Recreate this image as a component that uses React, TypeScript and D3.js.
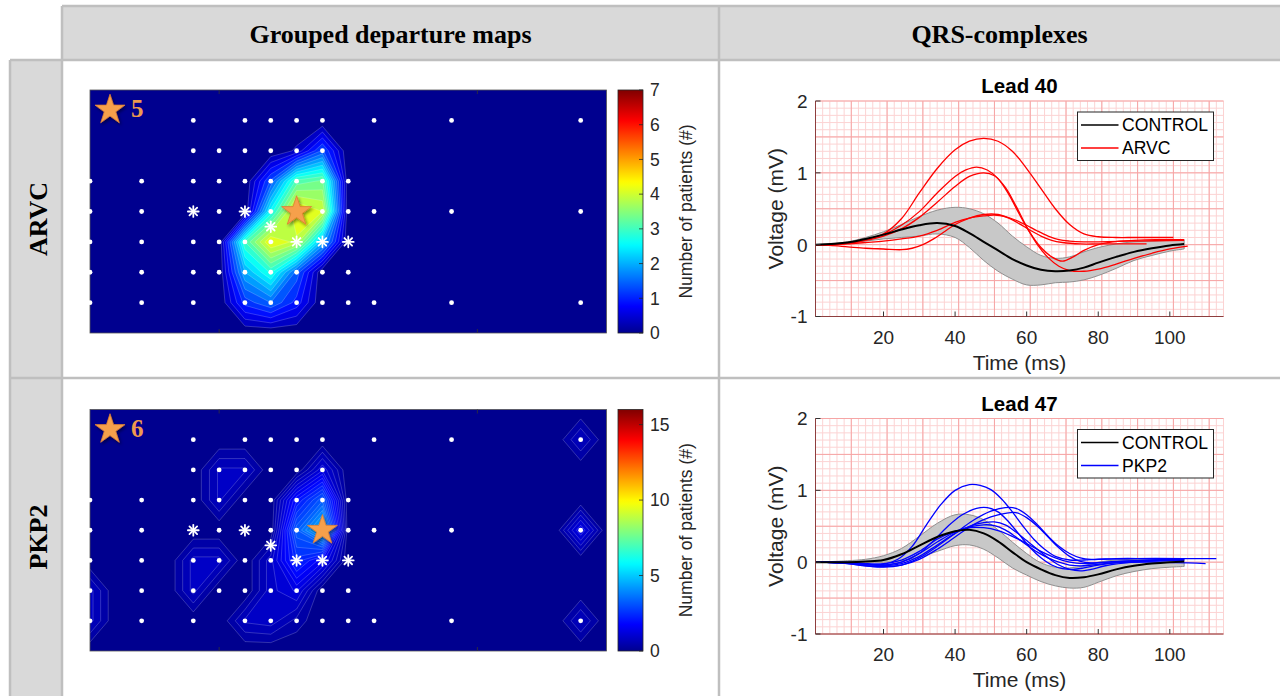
import React from "react";
import * as d3 from "d3";

// ================= DATA =================
// Grouped departure maps: number of patients per electrode-grid node
// rows 0..8 (top -> bottom), columns 0..20 (left -> right)
const arvcCounts: number[][] = [
  [0, 0, 0, 0, 0, 0, 0, 0, 0, 0, 0, 0, 0, 0, 0, 0, 0, 0, 0, 0, 0],
  [0, 0, 0, 0, 0, 0, 0, 0, 0, 0, 0, 0, 0, 0, 0, 0, 0, 0, 0, 0, 0],
  [0, 0, 0, 0, 0, 0, 0, 0, 0.3, 1.3, 0, 0, 0, 0, 0, 0, 0, 0, 0, 0, 0],
  [0, 0, 0, 0, 0, 0, 0, 1.3, 3.1, 3.3, 0, 0, 0, 0, 0, 0, 0, 0, 0, 0, 0],
  [0, 0, 0, 0, 0, 0, 0, 2.6, 4.4, 4.0, 0, 0, 0, 0, 0, 0, 0, 0, 0, 0, 0],
  [0, 0, 0, 0, 0, 0, 3.0, 4.3, 3.9, 2.0, 0, 0, 0, 0, 0, 0, 0, 0, 0, 0, 0],
  [0, 0, 0, 0, 0, 0, 2.0, 2.8, 1.4, 0, 0, 0, 0, 0, 0, 0, 0, 0, 0, 0, 0],
  [0, 0, 0, 0, 0, 0, 1.1, 1.5, 0.9, 0, 0, 0, 0, 0, 0, 0, 0, 0, 0, 0, 0],
  [0, 0, 0, 0, 0, 0, 0, 0, 0, 0, 0, 0, 0, 0, 0, 0, 0, 0, 0, 0, 0],
];
const pkp2Counts: number[][] = [
  [0, 0, 0, 0, 0, 0, 0, 0, 0, 0, 0, 0, 0, 0, 0, 0, 0, 0, 0, 0, 0],
  [0, 0, 0, 0, 0, 0, 0, 0, 0, 0, 0, 0, 0, 0, 0, 0, 0, 0, 0, 0.8, 0],
  [0, 0, 0, 0, 0, 0.8, 0.8, 0, 0, 1.2, 0, 0, 0, 0, 0, 0, 0, 0, 0, 0, 0],
  [0, 0, 0, 0, 0, 0.8, 0, 0, 2.0, 3.2, 0, 0, 0, 0, 0, 0, 0, 0, 0, 0, 0],
  [0, 0, 0, 0, 0, 0, 0, 0, 3.2, 4.8, 0, 0, 0, 0, 0, 0, 0, 0, 0, 1.5, 0],
  [0, 0, 0, 0, 0.85, 0.85, 0, 0.9, 2.4, 1.6, 0, 0, 0, 0, 0, 0, 0, 0, 0, 0, 0],
  [0.85, 0, 0, 0, 0.85, 0, 0, 0.9, 1.3, 0, 0, 0, 0, 0, 0, 0, 0, 0, 0, 0, 0],
  [0.85, 0, 0, 0, 0, 0, 0.8, 0.9, 0.4, 0, 0, 0, 0, 0, 0, 0, 0, 0, 0, 0.8, 0],
  [0, 0, 0, 0, 0, 0, 0, 0, 0, 0, 0, 0, 0, 0, 0, 0, 0, 0, 0, 0, 0],
];
const arvcMaxCount = 7;
const pkp2MaxCount = 16;
const arvcColorbarTicks = [0, 1, 2, 3, 4, 5, 6, 7];
const pkp2ColorbarTicks = [0, 5, 10, 15];
const contourStep = 0.25;

// electrode positions: [row, columns]
const electrodeRows: [number, number[]][] = [
  [1, [4, 6, 7, 8, 9, 11, 14, 19]],
  [2, [4, 5, 6, 7, 8, 9]],
  [3, [0, 2, 4, 5, 6, 7, 8, 9, 10]],
  [4, [0, 2, 5, 7, 8, 9, 10, 11, 14, 19]],
  [5, [0, 2, 4, 5, 6, 7]],
  [6, [0, 2, 4, 5, 6, 7, 8, 9, 10]],
  [7, [0, 2, 4, 6, 7, 8, 9, 10, 11, 14, 19]],
];
const asteriskLeads: [number, number][] = [[4, 4], [6, 4], [7, 4.5], [8, 5], [9, 5], [10, 5]];
const arvcStar: [number, number] = [8, 4];
const pkp2Star: [number, number] = [9, 4];
const arvcStarCount = 5;
const pkp2StarCount = 6;

// QRS complexes
const ecgTimes = [1, 10, 15, 20, 25, 30, 35, 40, 44, 48, 52, 56, 60, 64, 68, 72, 76, 80, 85, 90, 95, 100, 104];
const lead40ControlMean = [0, 0.03, 0.08, 0.14, 0.21, 0.27, 0.30, 0.26, 0.16, 0.04, -0.08, -0.20, -0.29, -0.35, -0.37, -0.36, -0.32, -0.25, -0.17, -0.10, -0.05, -0.01, 0.01];
const lead40ControlUpper = [0, 0.04, 0.10, 0.18, 0.28, 0.39, 0.48, 0.52, 0.50, 0.43, 0.30, 0.12, -0.03, -0.15, -0.19, -0.17, -0.10, -0.04, 0.01, 0.04, 0.05, 0.06, 0.07];
const lead40ControlLower = [0, 0.02, 0.05, 0.08, 0.10, 0.12, 0.15, 0.10, -0.04, -0.22, -0.37, -0.48, -0.56, -0.56, -0.53, -0.52, -0.49, -0.43, -0.33, -0.22, -0.15, -0.09, -0.06];
const lead47ControlMean = [0, 0, 0.01, 0.03, 0.11, 0.23, 0.35, 0.43, 0.45, 0.40, 0.29, 0.14, 0, -0.10, -0.18, -0.22, -0.21, -0.17, -0.10, -0.05, -0.02, 0, 0.01];
const lead47ControlUpper = [0, 0.02, 0.04, 0.09, 0.19, 0.36, 0.54, 0.66, 0.66, 0.59, 0.45, 0.28, 0.12, -0.01, -0.07, -0.08, -0.05, 0, 0.03, 0.04, 0.05, 0.05, 0.05];
const lead47ControlLower = [0, 0, 0, 0, 0.02, 0.07, 0.15, 0.23, 0.24, 0.18, 0.06, -0.08, -0.18, -0.27, -0.33, -0.36, -0.35, -0.28, -0.19, -0.13, -0.09, -0.07, -0.06];

const lead40Arvc: [number, number][][] = [
  [[1, 0], [5, 0], [10, 0.02], [15, 0.07], [20, 0.15], [25, 0.36], [30, 0.72], [35, 1.06], [40, 1.32], [44, 1.44], [48, 1.48], [52, 1.44], [56, 1.30], [60, 1.06], [64, 0.78], [68, 0.50], [72, 0.28], [76, 0.15], [80, 0.11], [85, 0.10], [90, 0.10], [95, 0.10], [101, 0.10]],
  [[1, 0], [5, 0], [10, 0.02], [15, 0.07], [20, 0.14], [25, 0.27], [30, 0.46], [35, 0.72], [40, 0.95], [43, 1.04], [46, 1.08], [49, 1.04], [52, 0.92], [55, 0.70], [58, 0.42], [61, 0.16], [64, -0.04], [67, -0.17], [70, -0.23], [73, -0.17], [76, -0.08], [80, 0.0], [84, 0.04], [90, 0.06], [96, 0.07], [104, 0.07]],
  [[1, 0], [5, 0], [10, 0.02], [15, 0.06], [20, 0.12], [25, 0.22], [30, 0.38], [35, 0.59], [40, 0.81], [44, 0.95], [48, 1.0], [51, 0.96], [54, 0.80], [57, 0.54], [60, 0.25], [63, 0.0], [66, -0.18], [69, -0.30], [72, -0.36], [76, -0.37], [80, -0.34], [85, -0.27], [90, -0.19], [95, -0.12], [100, -0.06], [105, -0.02]],
  [[1, 0], [5, -0.01], [10, -0.03], [15, -0.05], [20, -0.06], [25, -0.07], [28, -0.05], [31, 0.0], [34, 0.08], [37, 0.18], [40, 0.28], [44, 0.37], [48, 0.42], [52, 0.42], [55, 0.37], [58, 0.29], [61, 0.20], [64, 0.12], [67, 0.06], [70, 0.03], [75, 0.01], [80, 0.01], [86, 0.01], [93.5, 0.01]],
  [[1, 0], [5, 0], [10, 0.01], [15, 0.03], [20, 0.05], [25, 0.08], [30, 0.12], [35, 0.20], [40, 0.31], [44, 0.37], [48, 0.40], [51, 0.41], [54, 0.39], [57, 0.34], [60, 0.27], [63, 0.19], [66, 0.12], [69, 0.07], [72, 0.05], [76, 0.04], [80, 0.04], [90, 0.05], [104, 0.06]],
];
const lead47Pkp2: [number, number][][] = [
  [[1, 0], [10, -0.01], [15, -0.03], [20, -0.03], [24, 0.04], [28, 0.22], [32, 0.52], [36, 0.80], [40, 1.0], [44, 1.08], [47, 1.07], [50, 1.01], [53, 0.88], [56, 0.70], [59, 0.50], [62, 0.32], [65, 0.18], [68, 0.08], [72, 0.03], [76, 0.03], [80, 0.04], [90, 0.05], [104, 0.05]],
  [[1, 0], [10, -0.01], [15, -0.03], [20, -0.04], [25, 0.0], [30, 0.12], [34, 0.30], [38, 0.50], [42, 0.66], [46, 0.75], [49, 0.76], [52, 0.70], [55, 0.56], [58, 0.38], [61, 0.20], [64, 0.06], [67, -0.04], [70, -0.09], [73, -0.10], [76, -0.08], [80, -0.04], [85, -0.01], [95, 0.0], [110, -0.02]],
  [[1, 0], [10, -0.02], [15, -0.05], [20, -0.07], [25, -0.04], [30, 0.06], [35, 0.22], [40, 0.40], [45, 0.58], [50, 0.71], [54, 0.76], [57, 0.75], [60, 0.66], [63, 0.52], [66, 0.36], [69, 0.22], [72, 0.12], [75, 0.06], [78, 0.04], [85, 0.05], [95, 0.05], [113, 0.05]],
  [[1, 0], [10, -0.02], [15, -0.05], [20, -0.06], [25, -0.04], [30, 0.04], [35, 0.18], [40, 0.35], [45, 0.52], [50, 0.63], [54, 0.68], [57, 0.69], [60, 0.62], [63, 0.50], [66, 0.35], [69, 0.20], [72, 0.08], [75, 0.01], [78, -0.01], [85, 0.01], [95, 0.03], [104, 0.04]],
  [[1, 0], [10, -0.01], [15, -0.03], [20, -0.05], [25, -0.02], [30, 0.08], [35, 0.24], [40, 0.40], [44, 0.50], [48, 0.55], [51, 0.56], [54, 0.52], [57, 0.42], [60, 0.30], [63, 0.18], [66, 0.06], [69, -0.04], [72, -0.10], [75, -0.12], [78, -0.10], [82, -0.05], [90, 0.0], [104, 0.03]],
  [[1, 0], [10, -0.01], [15, -0.03], [20, -0.04], [25, 0.0], [30, 0.12], [35, 0.28], [40, 0.42], [44, 0.49], [48, 0.52], [51, 0.51], [54, 0.45], [57, 0.35], [60, 0.24], [63, 0.14], [66, 0.06], [69, 0.0], [72, -0.04], [76, -0.05], [80, -0.03], [90, 0.01], [104, 0.03]],
  [[1, 0], [10, 0.0], [15, -0.02], [20, -0.02], [25, 0.03], [30, 0.15], [35, 0.32], [40, 0.43], [44, 0.48], [48, 0.48], [52, 0.44], [56, 0.36], [60, 0.26], [64, 0.15], [68, 0.06], [72, 0.0], [76, -0.02], [80, -0.01], [90, 0.02], [104, 0.04]],
];
const ecgXTicks = [20, 40, 60, 80, 100];
const ecgYTicks = [-1, 0, 1, 2];
const ecgXDomain: [number, number] = [1, 115];
const ecgYDomain: [number, number] = [-1, 2];

const columnHeaders = ["Grouped departure maps", "QRS-complexes"];
const rowHeaders = ["ARVC", "PKP2"];

// ================= STYLE / LAYOUT =================
const SANS = "'Liberation Sans', Arial, Helvetica, sans-serif";
const SERIF = "'Liberation Serif', 'Times New Roman', serif";
const MAP_LEFT = 90;
const MAP_RIGHT = 606.5;
const CB_LEFT = 618;
const CB_RIGHT = 643;
const ECG_LEFT = 815.5;
const ECG_RIGHT = 1223.5;

function jet(t: number): string {
  const c = (v: number) => Math.max(0, Math.min(1, v));
  const tt = 1 / 64 + Math.max(0, Math.min(1, t)) * (63 / 64);
  return d3.rgb(255 * c(1.5 - Math.abs(4 * tt - 3)), 255 * c(1.5 - Math.abs(4 * tt - 2)), 255 * c(1.5 - Math.abs(4 * tt - 1))).formatHex();
}

const starPath = d3.symbol().type(d3.symbolStar).size(280)() as string;

function Asterisk({ cx, cy }: { cx: number; cy: number }) {
  const r = 5.4;
  return (
    <g stroke="#fff" strokeWidth={1.8} strokeLinecap="round">
      {[0, 45, 90, 135].map((a) => {
        const dx = r * Math.cos((a * Math.PI) / 180);
        const dy = r * Math.sin((a * Math.PI) / 180);
        return <line key={a} x1={cx - dx} y1={cy - dy} x2={cx + dx} y2={cy + dy} />;
      })}
    </g>
  );
}

function DepartureMap(props: {
  id: string;
  counts: number[][];
  maxCount: number;
  ticks: number[];
  top: number;
  bottom: number;
  star: [number, number];
  starCount: number;
}) {
  const { id, counts, maxCount, ticks, top, bottom, star, starCount } = props;
  const x = d3.scaleLinear().domain([0, 20]).range([MAP_LEFT, MAP_RIGHT]);
  const y = d3.scaleLinear().domain([0, 8]).range([top, bottom]);
  const thresholds = d3.range(contourStep, maxCount, contourStep);
  const contours = d3
    .contours()
    .size([counts[0].length, counts.length])
    .thresholds(thresholds)(counts.flat());
  const proj = d3.geoTransform({
    point: function (px: number, py: number) {
      (this as any).stream.point(x(px - 0.5), y(py - 0.5));
    },
  });
  const path = d3.geoPath(proj as any);
  const cb = d3.scaleLinear().domain([0, maxCount]).range([bottom, top]);
  const stops = d3.range(0, 65).map((i) => i / 64);
  const midY = (top + bottom) / 2;
  return (
    <g>
      <defs>
        <clipPath id={`clip-${id}`}>
          <rect x={MAP_LEFT} y={top} width={MAP_RIGHT - MAP_LEFT} height={bottom - top} />
        </clipPath>
        <linearGradient id={`grad-${id}`} x1="0" y1="1" x2="0" y2="0">
          {stops.map((s) => (
            <stop key={s} offset={s} stopColor={jet(s)} />
          ))}
        </linearGradient>
      </defs>
      <rect x={MAP_LEFT} y={top} width={MAP_RIGHT - MAP_LEFT} height={bottom - top} fill={jet(0)} />
      <g clipPath={`url(#clip-${id})`}>
        {contours.map((c, i) =>
          c.coordinates.length ? (
            <path key={i} d={path(c as any) || ""} fill={jet((c.value + contourStep / 2) / maxCount)} stroke="rgba(255,255,255,0.33)" strokeWidth={0.6} />
          ) : null
        )}
      </g>
      <rect x={MAP_LEFT} y={top} width={MAP_RIGHT - MAP_LEFT} height={bottom - top} fill="none" stroke="#555" strokeWidth={0.8} />
      {[5, 15].map((c) => (
        <g key={c} stroke="#333" strokeWidth={0.8}>
          <line x1={x(c)} x2={x(c)} y1={top} y2={top + 4} />
          <line x1={x(c)} x2={x(c)} y1={bottom} y2={bottom - 4} />
        </g>
      ))}
      {electrodeRows.map(([r, cols]) =>
        cols.map((c) => <circle key={`${r}-${c}`} cx={x(c)} cy={y(r)} r={2.4} fill="#fff" />)
      )}
      {asteriskLeads.map(([c, r], i) => (
        <Asterisk key={i} cx={x(c)} cy={y(r)} />
      ))}
      <path d={starPath} transform={`translate(${x(star[0])},${y(star[1])})`} fill="#f6a04c" stroke="#dd7d33" strokeWidth={0.8} filter="url(#starShadow)" />
      <path d={starPath} transform={`translate(${MAP_LEFT + 20},${top + 20})`} fill="#f6a04c" stroke="#dd7d33" strokeWidth={0.8} filter="url(#starShadow)" />
      <text x={MAP_LEFT + 41} y={top + 27} fontFamily={SERIF} fontWeight="bold" fontSize={25} fill="#ee9a4e">
        {starCount}
      </text>
      {/* colorbar */}
      <rect x={CB_LEFT} y={top} width={CB_RIGHT - CB_LEFT} height={bottom - top} fill={`url(#grad-${id})`} stroke="#262626" strokeWidth={0.8} />
      {ticks.map((t) => (
        <g key={t}>
          <line x1={CB_RIGHT - 4} x2={CB_RIGHT} y1={cb(t)} y2={cb(t)} stroke="#262626" strokeWidth={0.8} />
          <text x={CB_RIGHT + 7} y={cb(t)} dy="0.36em" fontFamily={SANS} fontSize={17.5} fill="#262626">
            {t}
          </text>
        </g>
      ))}
      <text transform={`translate(691.5,${midY}) rotate(-90)`} textAnchor="middle" fontFamily={SANS} fontSize={17.5} fill="#262626">
        Number of patients (#)
      </text>
    </g>
  );
}

function EcgPanel(props: {
  top: number;
  bottom: number;
  title: string;
  mean: number[];
  upper: number[];
  lower: number[];
  curves: [number, number][][];
  color: string;
  group: string;
}) {
  const { top, bottom, title, mean, upper, lower, curves, color, group } = props;
  const x = d3.scaleLinear().domain(ecgXDomain).range([ECG_LEFT, ECG_RIGHT]);
  const y = d3.scaleLinear().domain(ecgYDomain).range([bottom, top]);
  const minorX = d3.range(ecgXDomain[0], ecgXDomain[1] + 0.01, 2);
  const majorX = d3.range(ecgXDomain[0], ecgXDomain[1], 10);
  const minorY = d3.range(-10, 21).map((v) => v / 10);
  const majorY = d3.range(-2, 5).map((v) => v / 2);
  const band = d3
    .area<number>()
    .x((_, i) => x(ecgTimes[i]))
    .y0((_, i) => y(lower[i]))
    .y1((_, i) => y(upper[i]))
    .curve(d3.curveCatmullRom.alpha(0.5));
  const meanLine = d3
    .line<number>()
    .x((_, i) => x(ecgTimes[i]))
    .y((d) => y(d))
    .curve(d3.curveCatmullRom.alpha(0.5));
  const curveLine = d3
    .line<[number, number]>()
    .x((d) => x(d[0]))
    .y((d) => y(d[1]))
    .curve(d3.curveCatmullRom.alpha(0.5));
  const lgX = ECG_RIGHT - 146;
  const lgY = top + 11;
  return (
    <g>
      <rect x={ECG_LEFT} y={top} width={ECG_RIGHT - ECG_LEFT} height={bottom - top} fill="#fff" />
      {minorX.map((t) => (
        <line key={`mx${t}`} x1={x(t)} x2={x(t)} y1={top} y2={bottom} stroke="#fcd3d3" strokeWidth={1} />
      ))}
      {minorY.map((v) => (
        <line key={`my${v}`} x1={ECG_LEFT} x2={ECG_RIGHT} y1={y(v)} y2={y(v)} stroke="#fcd3d3" strokeWidth={1} />
      ))}
      {majorX.map((t) => (
        <line key={`Mx${t}`} x1={x(t)} x2={x(t)} y1={top} y2={bottom} stroke="#f6a5a5" strokeWidth={1} />
      ))}
      {majorY.map((v) => (
        <line key={`My${v}`} x1={ECG_LEFT} x2={ECG_RIGHT} y1={y(v)} y2={y(v)} stroke="#f6a5a5" strokeWidth={1} />
      ))}
      <path d={band(mean) || ""} fill="#c8c8c8" stroke="#8f8f8f" strokeWidth={1} />
      {curves.map((c, i) => (
        <path key={i} d={curveLine(c) || ""} fill="none" stroke={color} strokeWidth={1.3} />
      ))}
      <path d={meanLine(mean) || ""} fill="none" stroke="#000" strokeWidth={2} />
      {/* axes */}
      <line x1={ECG_LEFT} x2={ECG_LEFT} y1={top} y2={bottom} stroke="#8e3e3e" strokeWidth={1} />
      <line x1={ECG_LEFT} x2={ECG_RIGHT} y1={bottom} y2={bottom} stroke="#8e3e3e" strokeWidth={1} />
      {ecgXTicks.map((t) => (
        <g key={t}>
          <line x1={x(t)} x2={x(t)} y1={bottom} y2={bottom - 5} stroke="#333" strokeWidth={1} />
          <text x={x(t)} y={bottom + 27} textAnchor="middle" fontFamily={SANS} fontSize={19} fill="#262626">
            {t}
          </text>
        </g>
      ))}
      {ecgYTicks.map((v) => (
        <g key={v}>
          <line x1={ECG_LEFT} x2={ECG_LEFT + 5} y1={y(v)} y2={y(v)} stroke="#333" strokeWidth={1} />
          <text x={ECG_LEFT - 8} y={y(v)} dy="0.36em" textAnchor="end" fontFamily={SANS} fontSize={19} fill="#262626">
            {v}
          </text>
        </g>
      ))}
      <text x={(ECG_LEFT + ECG_RIGHT) / 2} y={bottom + 53} textAnchor="middle" fontFamily={SANS} fontSize={21} fill="#262626">
        Time (ms)
      </text>
      <text transform={`translate(783,${(top + bottom) / 2}) rotate(-90)`} textAnchor="middle" fontFamily={SANS} fontSize={21} fill="#262626">
        Voltage (mV)
      </text>
      <text x={(ECG_LEFT + ECG_RIGHT) / 2} y={top - 8} textAnchor="middle" fontFamily={SANS} fontWeight="bold" fontSize={20.5} fill="#000">
        {title}
      </text>
      {/* legend */}
      <rect x={lgX} y={lgY} width={136} height={48.5} fill="#fff" stroke="#262626" strokeWidth={1} />
      <line x1={lgX + 3.5} x2={lgX + 41} y1={lgY + 13} y2={lgY + 13} stroke="#000" strokeWidth={1.5} />
      <line x1={lgX + 3.5} x2={lgX + 41} y1={lgY + 36} y2={lgY + 36} stroke={color} strokeWidth={1.5} />
      <text x={lgX + 44.5} y={lgY + 13} dy="0.36em" fontFamily={SANS} fontSize={17.6} fill="#000">
        CONTROL
      </text>
      <text x={lgX + 44.5} y={lgY + 36} dy="0.36em" fontFamily={SANS} fontSize={17.6} fill="#000">
        {group}
      </text>
    </g>
  );
}

function TableFrame() {
  const bc = "#bfbfbf";
  const bw = 2.5;
  return (
    <g>
      <rect x={62} y={6} width={657} height={54} fill="#d9d9d9" />
      <rect x={719} y={6} width={561} height={54} fill="#d9d9d9" />
      <rect x={10} y={60} width={52} height={318} fill="#d9d9d9" />
      <rect x={10} y={378} width={52} height={330} fill="#d9d9d9" />
      <line x1={62} x2={1280} y1={6} y2={6} stroke={bc} strokeWidth={bw} />
      <line x1={10} x2={1280} y1={60} y2={60} stroke={bc} strokeWidth={bw} />
      <line x1={10} x2={1280} y1={378} y2={378} stroke={bc} strokeWidth={bw} />
      <line x1={10} x2={10} y1={60} y2={696} stroke={bc} strokeWidth={bw} />
      <line x1={62} x2={62} y1={6} y2={696} stroke={bc} strokeWidth={bw} />
      <line x1={719} x2={719} y1={6} y2={696} stroke={bc} strokeWidth={bw} />
      <text x={390.5} y={34} dy="0.34em" textAnchor="middle" fontFamily={SERIF} fontWeight="bold" fontSize={26} fill="#000">
        {columnHeaders[0]}
      </text>
      <text x={999.5} y={34} dy="0.34em" textAnchor="middle" fontFamily={SERIF} fontWeight="bold" fontSize={26} fill="#000">
        {columnHeaders[1]}
      </text>
      <text transform="translate(46.5,219) rotate(-90)" textAnchor="middle" fontFamily={SERIF} fontWeight="bold" fontSize={26} fill="#000">
        {rowHeaders[0]}
      </text>
      <text transform="translate(46.5,537) rotate(-90)" textAnchor="middle" fontFamily={SERIF} fontWeight="bold" fontSize={26} fill="#000">
        {rowHeaders[1]}
      </text>
    </g>
  );
}

export default function App() {
  return (
    <svg
      width={1280}
      height={696}
      viewBox="0 0 1280 696"
      style={{ position: "absolute", left: 0, top: 0, background: "#fff" }}
    >
      <defs>
        <filter id="starShadow" x="-50%" y="-50%" width="200%" height="200%">
          <feDropShadow dx={1.5} dy={2} stdDeviation={1.5} floodColor="#000" floodOpacity={0.45} />
        </filter>
      </defs>
      <rect x={0} y={0} width={1280} height={696} fill="#fff" />
      <TableFrame />
      <DepartureMap id="arvc" counts={arvcCounts} maxCount={arvcMaxCount} ticks={arvcColorbarTicks} top={90} bottom={333} star={arvcStar} starCount={arvcStarCount} />
      <DepartureMap id="pkp2" counts={pkp2Counts} maxCount={pkp2MaxCount} ticks={pkp2ColorbarTicks} top={409.5} bottom={651} star={pkp2Star} starCount={pkp2StarCount} />
      <EcgPanel top={101} bottom={316.5} title="Lead 40" mean={lead40ControlMean} upper={lead40ControlUpper} lower={lead40ControlLower} curves={lead40Arvc} color="#ff0000" group="ARVC" />
      <EcgPanel top={418.5} bottom={634} title="Lead 47" mean={lead47ControlMean} upper={lead47ControlUpper} lower={lead47ControlLower} curves={lead47Pkp2} color="#0000ff" group="PKP2" />
    </svg>
  );
}
